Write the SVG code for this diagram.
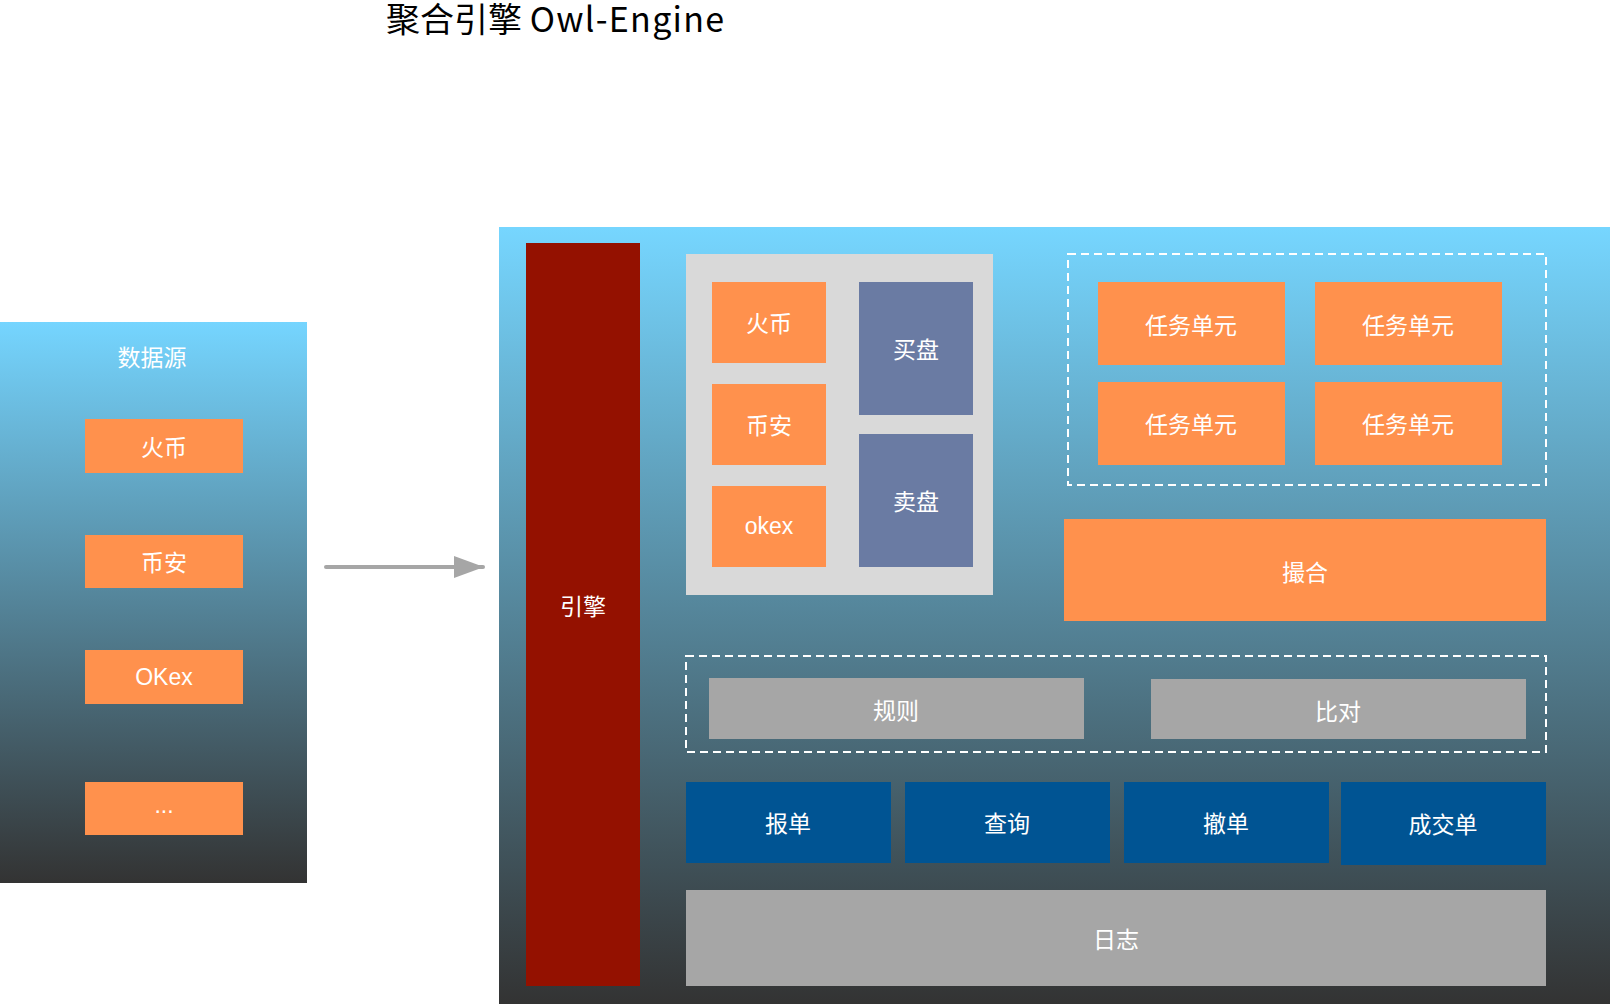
<svg xmlns="http://www.w3.org/2000/svg" width="1610" height="1004" viewBox="0 0 1610 1004">
<defs>
<linearGradient id="gL" x1="0" y1="0" x2="0" y2="1"><stop offset="0" stop-color="#75D5FF"/><stop offset="1" stop-color="#333333"/></linearGradient>
<linearGradient id="gM" x1="0" y1="0" x2="0" y2="1"><stop offset="0" stop-color="#76D6FF"/><stop offset="1" stop-color="#333333"/></linearGradient>
<marker id="ah" viewBox="0 0 30 22" refX="29" refY="11" markerWidth="30" markerHeight="22" markerUnits="userSpaceOnUse" orient="auto"><path d="M0,0 L30,11 L0,22 Z" fill="#A6A6A6"/></marker>
</defs>
<style>
text{font-family:"Noto Sans CJK SC","Liberation Sans",sans-serif;fill:#fff;font-size:23px;text-anchor:middle;dominant-baseline:central}
.or{fill:#FF914D}
.pu{fill:#6A7BA3}
.bl{fill:#005493}
.gr{fill:#A6A6A6}
.dash{fill:none;stroke:#fff;stroke-width:2;stroke-dasharray:8 5}
</style>
<rect width="1610" height="1004" fill="#fff"/>
<text x="386" y="32" style="fill:#000;font-size:34px;text-anchor:start;dominant-baseline:alphabetic">聚合引擎 <tspan style="letter-spacing:1.3px">Owl-Engine</tspan></text>

<g id="datasource">
<rect x="0" y="322" width="307" height="561" fill="url(#gL)"/>
<text x="152" y="356">数据源</text>
</g>
<g id="ds-huobi"><rect class="or" x="85" y="419" width="158" height="54"/><text x="164" y="446">火币</text></g>
<g id="ds-binance"><rect class="or" x="85" y="535" width="158" height="53"/><text x="164" y="561">币安</text></g>
<g id="ds-okex"><rect class="or" x="85" y="650" width="158" height="54"/><text x="164" y="677" style="font-family:'Liberation Sans','Noto Sans CJK SC',sans-serif">OKex</text></g>
<g id="ds-more"><rect class="or" x="85" y="782" width="158" height="53"/><text x="164" y="805" style="font-family:'Liberation Sans',sans-serif">...</text></g>

<g id="connectors">
<line x1="326" y1="567" x2="483" y2="567" stroke="#A6A6A6" stroke-width="4" stroke-linecap="round" marker-end="url(#ah)"/>
</g>

<g id="owl-engine"><rect x="499" y="227" width="1111" height="777" fill="url(#gM)"/></g>
<g id="engine"><rect x="526" y="243" width="114" height="743" fill="#941100"/><text x="583" y="605">引擎</text></g>

<g id="orderbook"><rect x="686" y="254" width="307" height="341" fill="#D9D9D9"/></g>
<g id="ob-huobi"><rect class="or" x="712" y="282" width="114" height="81"/><text x="769" y="322">火币</text></g>
<g id="ob-binance"><rect class="or" x="712" y="384" width="114" height="81"/><text x="769" y="424">币安</text></g>
<g id="ob-okex"><rect class="or" x="712" y="486" width="114" height="81"/><text x="769" y="526" style="font-family:'Liberation Sans',sans-serif">okex</text></g>
<g id="bids"><rect class="pu" x="859" y="282" width="114" height="133"/><text x="916" y="348">买盘</text></g>
<g id="asks"><rect class="pu" x="859" y="434" width="114" height="133"/><text x="916" y="500">卖盘</text></g>

<g id="tasks"><rect class="dash" x="1068" y="254" width="478" height="231"/></g>
<g id="task1"><rect class="or" x="1098" y="282" width="187" height="83"/><text x="1191" y="324">任务单元</text></g>
<g id="task2"><rect class="or" x="1315" y="282" width="187" height="83"/><text x="1408" y="324">任务单元</text></g>
<g id="task3"><rect class="or" x="1098" y="382" width="187" height="83"/><text x="1191" y="423">任务单元</text></g>
<g id="task4"><rect class="or" x="1315" y="382" width="187" height="83"/><text x="1408" y="423">任务单元</text></g>

<g id="match"><rect class="or" x="1064" y="519" width="482" height="102"/><text x="1305" y="571">撮合</text></g>

<g id="rules-group"><rect class="dash" x="686" y="656" width="860" height="96"/></g>
<g id="rules"><rect class="gr" x="709" y="678" width="375" height="61"/><text x="896" y="709">规则</text></g>
<g id="compare"><rect class="gr" x="1151" y="679" width="375" height="60"/><text x="1338" y="710">比对</text></g>

<g id="order"><rect class="bl" x="686" y="782" width="205" height="81"/><text x="788" y="822">报单</text></g>
<g id="query"><rect class="bl" x="905" y="782" width="205" height="81"/><text x="1007" y="822">查询</text></g>
<g id="cancel"><rect class="bl" x="1124" y="782" width="205" height="81"/><text x="1226" y="822">撤单</text></g>
<g id="trades"><rect class="bl" x="1341" y="782" width="205" height="83"/><text x="1443" y="823">成交单</text></g>

<g id="log"><rect class="gr" x="686" y="890" width="860" height="96"/><text x="1116" y="938">日志</text></g>
</svg>
